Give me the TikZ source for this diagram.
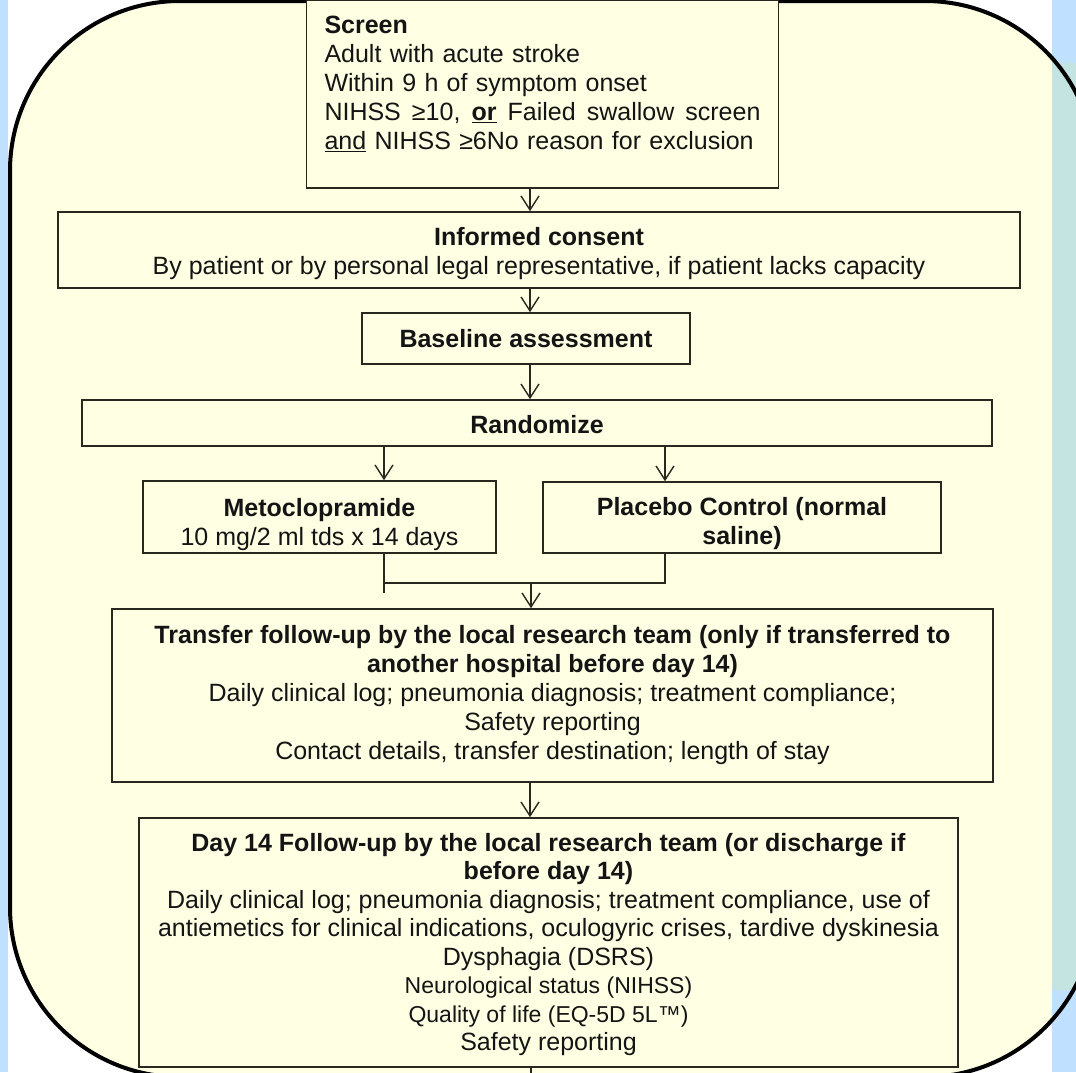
\documentclass[tikz,border=0pt]{standalone}
\usepackage{fontspec}
\setmainfont{Liberation Sans}
\usetikzlibrary{arrows.meta}
\pgfdeclarelayer{background}
\pgfsetlayers{background,main}
\definecolor{cream}{RGB}{255,255,227}
\definecolor{skyblue}{RGB}{191,225,255}
\definecolor{paleteal}{RGB}{196,228,226}
\definecolor{inkgray}{RGB}{40,40,30}
\tikzset{
  box/.style={draw=inkgray, line width=1.6pt, fill=cream, inner sep=0pt, align=center, text=black!92, font=\fontsize{25}{29}\selectfont},
  arr/.style={draw=inkgray, line width=1.4pt, -{Straight Barb[length=14pt,width=18pt,line width=1.4pt]}},
  link/.style={draw=inkgray, line width=1.4pt}
}
\begin{document}
\begin{tikzpicture}[x=1pt,y=-1pt]
\useasboundingbox (0,0) rectangle (1076,1072);
\begin{pgfonlayer}{background}
\fill[white] (0,0) rectangle (1076,1072);
\fill[skyblue] (0,0) rectangle (8,1072);
\fill[cream, rounded corners=170pt] (10,1) rectangle (1095,1077);
\fill[skyblue] (1052,0) rectangle (1076,1072);
\fill[paleteal] (1052,63) rectangle (1076,990);
\draw[line width=4pt, rounded corners=170pt] (10,1) rectangle (1095,1077);
\end{pgfonlayer}

\coordinate (spine) at (530,0);
\coordinate (armL) at (384,0);
\coordinate (armR) at (665,0);
\coordinate (join) at (531,583);
\coordinate (tail) at (531,1080);

\node[box, minimum width=472pt, minimum height=188pt, text width=436pt, align=left] (screen) at (542.5,94)
  {\textbf{Screen}\\Adult with acute stroke\\Within 9 h of symptom onset\\\makebox[436pt][l]{NIHSS\hfill ≥10,\hfill \underline{\textbf{or}}\hfill Failed\hfill swallow\hfill screen}\\\underline{and} NIHSS ≥6No reason for exclusion\rule[-23pt]{0pt}{23pt}};
\node[box, minimum width=962pt, minimum height=76pt] (consent) at (539,250)
  {\rule{0pt}{26pt}\textbf{Informed consent}\\By patient or by personal legal representative, if patient lacks capacity};
\node[box, minimum width=328pt, minimum height=51pt] (baseline) at (526,338.5) {\textbf{Baseline assessment}};
\node[box, minimum width=910pt, minimum height=46pt] (randomize) at (537,423) {\rule{0pt}{22pt}\textbf{Randomize}};
\node[box, minimum width=353pt, minimum height=72pt] (meto) at (319.5,517)
  {\rule{0pt}{34pt}\textbf{Metoclopramide}\\10 mg/2 ml tds x 14 days};
\node[box, minimum width=398pt, minimum height=71pt] (placebo) at (742,517.5)
  {\rule{0pt}{30pt}\textbf{Placebo Control (normal}\\\textbf{saline)}};
\node[box, minimum width=881pt, minimum height=173pt] (transfer) at (552.5,695.5)
  {\textbf{Transfer follow-up by the local research team (only if transferred to}\\\textbf{another hospital before day 14)}\\Daily clinical log; pneumonia diagnosis; treatment compliance;\\Safety reporting\\Contact details, transfer destination; length of stay};
\node[box, minimum width=819pt, minimum height=249pt, font=\fontsize{25}{28.5}\selectfont] (day14) at (548.5,942.5)
  {\rule{0pt}{22pt}\textbf{Day 14 Follow-up by the local research team (or discharge if}\\\textbf{before day 14)}\\Daily clinical log; pneumonia diagnosis; treatment compliance, use of\\antiemetics for clinical indications, oculogyric crises, tardive dyskinesia\\Dysphagia (DSRS)\\{\fontsize{23}{28.5}\selectfont Neurological status (NIHSS)}\\{\fontsize{23}{28.5}\selectfont Quality of life (EQ-5D 5L™)}\\Safety reporting};

\draw[arr] (screen.south -| spine) -- (consent.north -| spine);
\draw[arr] (consent.south -| spine) -- (baseline.north -| spine);
\draw[arr] (baseline.south -| spine) -- (randomize.north -| spine);
\draw[arr] (randomize.south -| armL) -- (meto.north -| armL);
\draw[arr] (randomize.south -| armR) -- (placebo.north -| armR);
\draw[link] (meto.south -| armL) -- ++(0,39);
\draw[link] (armL |- join) -- (armR |- join) -- (placebo.south -| armR);
\draw[arr] (join) -- (transfer.north -| join);
\draw[arr] (transfer.south -| spine) -- (day14.north -| spine);
\draw[link] (day14.south -| tail) -- (tail);
\end{tikzpicture}
\end{document}
